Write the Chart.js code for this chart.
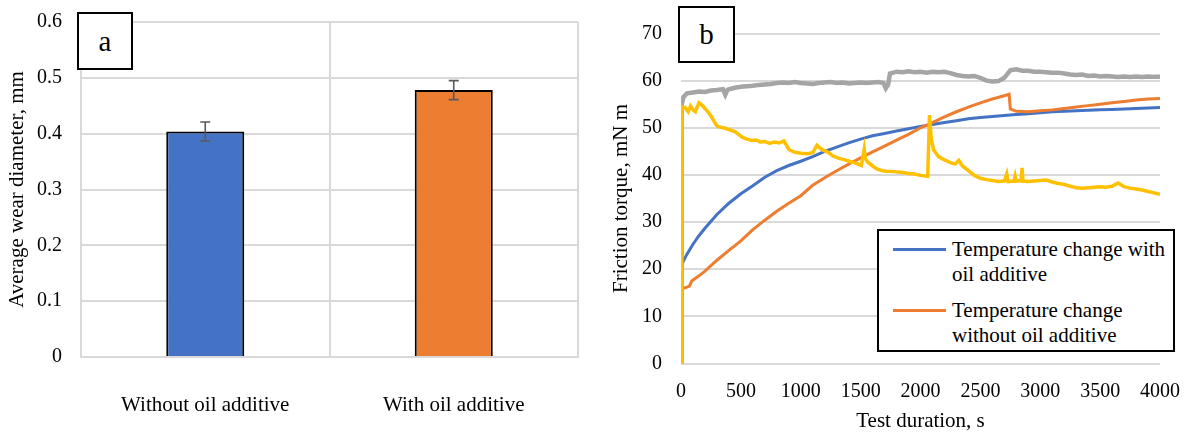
<!DOCTYPE html>
<html lang="en">
<head>
    <meta charset="UTF-8">
    <title>Wear diameter and friction torque</title>
    <script src="https://cdn.jsdelivr.net/npm/chart.js"></script>
    <style>
        body {
            margin: 0;
            padding: 0;
            background: #fff;
            font-family: "Liberation Serif", "Times New Roman", serif;
        }
        #wrap {
            position: relative;
            width: 1188px;
            height: 435px;
        }
        #left, #right {
            position: absolute;
            top: 0;
            height: 435px;
        }
        #left { left: 0; width: 600px; }
        #right { left: 600px; width: 588px; }
        .panel {
            position: absolute;
            box-sizing: border-box;
            border: 2px solid #000;
            background: #fff;
            font-size: 29px;
            display: flex;
            align-items: center;
            justify-content: center;
            color: #000;
        }
        #legend {
            position: absolute;
            left: 877px;
            top: 229px;
            width: 298px;
            height: 123px;
            box-sizing: border-box;
            border: 2px solid #000;
            background: #fff;
            font-size: 21px;
            line-height: 25px;
            color: #000;
        }
        .entry {
            position: absolute;
            left: 0;
            width: 100%;
        }
        .entry .swatch {
            position: absolute;
            left: 14px;
            width: 53px;
            height: 3px;
        }
        .entry .txt {
            position: absolute;
            left: 73px;
            white-space: nowrap;
        }
    </style>
</head>
<body>
<div id="wrap">
    <div id="left"><canvas id="wearChart"></canvas></div>
    <div id="right"><canvas id="torqueChart"></canvas></div>
    <div class="panel" style="left:77px; top:12px; width:56px; height:58px;">a</div>
    <div class="panel" style="left:678px; top:6px; width:57px; height:57px;">b</div>
    <div id="legend"></div>
</div>
<script>
    // ---- panel a : average wear diameter ----
    const wearLabels = ['Without oil additive', 'With oil additive'];
    const wearValues = [0.404, 0.478];
    const wearErrors = [0.017, 0.017];
    const wearColors = ['#4472C4', '#ED7D31'];
    const wearTicks = ['0', '0.1', '0.2', '0.3', '0.4', '0.5', '0.6'];

    // ---- panel b : friction torque over time ----
    const seriesNames = ['Temperature change with oil additive', 'Temperature change without oil additive', '', ''];
    const seriesColors = ['#4472C4', '#ED7D31', '#A5A5A5', '#FFC000'];
    const legendLines = [
        ['Temperature change with', 'oil additive'],
        ['Temperature change', 'without oil additive']
    ];
    const timeTicks = ['0', '500', '1000', '1500', '2000', '2500', '3000', '3500', '4000'];

    // blue
    const timeWith = [0, 25, 50, 100, 150, 200, 300, 400, 500, 600, 700, 800, 900, 1000,
        1100, 1200, 1300, 1400, 1500, 1600, 1700, 1800, 1900, 2000, 2100, 2200, 2300, 2400,
        2500, 2600, 2700, 2800, 2900, 3000, 3100, 3200, 3300, 3400, 3500, 3600, 3700, 3800, 3900, 4000];
    const torqueWith = [20.5, 22.0, 23.2, 25.3, 27.1, 28.7, 31.6, 34.0, 36.0, 37.7, 39.5, 40.9, 42.0, 42.9,
        43.9, 45.0, 45.9, 46.8, 47.6, 48.3, 48.8, 49.3, 49.8, 50.3, 50.7, 51.1, 51.5, 51.9,
        52.2, 52.4, 52.6, 52.8, 53.0, 53.2, 53.4, 53.5, 53.6, 53.7, 53.8, 53.9, 54.0, 54.1, 54.2, 54.3];

    // orange
    const timeWithout = [0, 25, 50, 70, 90, 150, 200, 300, 400, 500, 600, 700, 800, 900, 1000,
        1100, 1200, 1300, 1400, 1500, 1600, 1700, 1800, 1900, 2000, 2100, 2200, 2300, 2400,
        2500, 2600, 2700, 2740, 2750, 2800, 2900, 3000, 3100, 3200, 3300, 3400, 3500, 3600,
        3700, 3800, 3900, 4000];
    const torqueWithout = [15.8, 16.0, 16.2, 16.4, 17.5, 18.6, 19.6, 21.9, 24.0, 26.0, 28.4, 30.4, 32.3, 34.0, 35.6,
        37.8, 39.4, 40.9, 42.3, 43.6, 44.9, 46.1, 47.4, 48.6, 50.0, 51.1, 52.3, 53.4, 54.4,
        55.3, 56.1, 56.8, 57.1, 54.0, 53.5, 53.4, 53.6, 53.8, 54.1, 54.4, 54.7, 55.0, 55.3,
        55.6, 55.9, 56.1, 56.2];

    // gray
    const timeGray = [0, 5, 20, 50, 100, 150, 200, 250, 300, 350, 370, 390, 450, 500, 550, 600, 650,
        700, 750, 800, 850, 900, 950, 1000, 1050, 1100, 1150, 1200, 1250, 1300, 1350, 1400,
        1450, 1500, 1550, 1600, 1650, 1690, 1710, 1730, 1745, 1800, 1850, 1900, 1950, 2000,
        2050, 2100, 2150, 2200, 2250, 2300, 2350, 2400, 2450, 2500, 2550, 2600, 2650, 2700,
        2750, 2800, 2850, 2900, 2950, 3000, 3050, 3100, 3150, 3200, 3250, 3300, 3350, 3400,
        3450, 3500, 3550, 3600, 3650, 3700, 3750, 3800, 3850, 3900, 3950, 4000];
    const torqueGray = [0, 54.8, 56.5, 57.3, 57.5, 57.7, 57.6, 57.9, 58.0, 58.2, 57.0, 58.1, 58.5, 58.7, 58.8, 58.9, 59.1,
        59.2, 59.3, 59.5, 59.6, 59.5, 59.7, 59.5, 59.4, 59.3, 59.5, 59.6, 59.7, 59.5, 59.6, 59.4,
        59.5, 59.6, 59.5, 59.6, 59.7, 59.5, 58.4, 59.2, 61.5, 61.9, 61.8, 62.0, 61.8, 61.9,
        61.7, 61.9, 61.8, 61.9, 61.6, 61.2, 61.0, 60.9, 61.0, 60.6, 60.0, 59.8, 59.9, 60.6,
        62.2, 62.4, 62.1, 62.1, 61.9, 61.9, 61.8, 61.7, 61.7, 61.5, 61.3, 61.2, 61.3, 61.0,
        61.1, 60.9, 61.0, 60.9, 60.8, 60.9, 60.8, 60.9, 60.8, 60.9, 60.8, 60.8];

    // yellow
    const timeYellow = [0, 3, 15, 35, 60, 80, 100, 120, 150, 175, 200, 225, 250, 280, 300, 330,
        370, 400, 450, 480, 510, 550, 590, 630, 660, 700, 740, 780, 820, 860, 880, 900, 950,
        1000, 1050, 1100, 1135, 1160, 1190, 1230, 1270, 1320, 1370, 1420, 1470, 1505, 1520,
        1530, 1540, 1560, 1600, 1640, 1680, 1720, 1780, 1850, 1900, 1950, 2000, 2060, 2075,
        2090, 2110, 2150, 2200, 2250, 2290, 2320, 2350, 2400, 2450, 2500, 2550, 2600, 2650,
        2700, 2720, 2730, 2780, 2790, 2800, 2840, 2848, 2856, 2900, 2950, 3000, 3050, 3100,
        3150, 3200, 3250, 3300, 3350, 3400, 3450, 3500, 3550, 3600, 3650, 3700, 3750, 3800,
        3850, 3900, 3950, 4000];
    const torqueYellow = [0, 54.5, 54.0, 54.3, 53.4, 54.6, 53.8, 53.4, 55.3, 54.8, 54.1, 53.4, 52.5, 51.2, 50.4, 50.1,
        49.9, 49.6, 49.2, 48.6, 48.0, 47.6, 47.3, 47.4, 47.0, 47.1, 46.7, 47.0, 46.8, 47.2, 46.3, 45.4, 44.8,
        44.6, 44.5, 44.7, 46.3, 45.7, 45.2, 44.8, 44.0, 43.5, 43.2, 42.8, 42.4, 42.0, 44.0,
        45.5, 43.4, 42.7, 41.9, 41.2, 40.9, 40.8, 40.7, 40.5, 40.3, 40.2, 39.9, 39.7, 52.7,
        47.5, 45.3, 43.9, 43.2, 42.6, 42.3, 43.1, 41.9, 40.9, 39.9, 39.3, 39.0, 38.8, 38.6,
        38.7, 40.2, 38.6, 38.7, 39.8, 38.7, 38.8, 41.5, 38.7, 38.6, 38.7, 38.8, 38.9, 38.5,
        38.2, 38.0, 37.6, 37.3, 37.2, 37.3, 37.4, 37.5, 37.4, 37.6, 38.3, 37.5, 37.2, 37.0,
        36.8, 36.5, 36.2, 35.9];

    const axisFont = { family: '"Liberation Serif", "Times New Roman", serif', size: 20 };
    const titleFont = { family: '"Liberation Serif", "Times New Roman", serif', size: 21 };
    const gridColor = '#d9d9d9';

    // error bars for panel a
    const errorBars = {
        id: 'errorBars',
        afterDatasetsDraw(chart) {
            const meta = chart.getDatasetMeta(0);
            const yScale = chart.scales.y;
            const ctx = chart.ctx;
            ctx.save();
            ctx.strokeStyle = '#595959';
            ctx.lineWidth = 1.6;
            meta.data.forEach((bar, i) => {
                const top = yScale.getPixelForValue(wearValues[i] + wearErrors[i]);
                const bot = yScale.getPixelForValue(wearValues[i] - wearErrors[i]);
                ctx.beginPath();
                ctx.moveTo(bar.x, top);
                ctx.lineTo(bar.x, bot);
                ctx.moveTo(bar.x - 5, top);
                ctx.lineTo(bar.x + 5, top);
                ctx.moveTo(bar.x - 5, bot);
                ctx.lineTo(bar.x + 5, bot);
                ctx.stroke();
            });
            ctx.restore();
        }
    };

    new Chart(document.getElementById('wearChart'), {
        type: 'bar',
        data: {
            labels: wearLabels,
            datasets: [{
                data: wearValues,
                backgroundColor: wearColors,
                borderColor: '#000',
                borderWidth: 2,
                categoryPercentage: 1,
                barPercentage: 0.314
            }]
        },
        options: {
            responsive: true,
            maintainAspectRatio: false,
            animation: false,
            layout: { padding: { top: 22, right: 22, left: 0, bottom: 0 } },
            plugins: { legend: { display: false }, tooltip: { enabled: false } },
            scales: {
                x: {
                    grid: { color: gridColor, lineWidth: 2, drawTicks: false, offset: true },
                    border: { color: gridColor, width: 2 },
                    ticks: { color: '#000', font: titleFont, padding: 36, maxRotation: 0 },
                    afterFit(scale) { scale.height = 78; }
                },
                y: {
                    min: 0,
                    max: 0.6,
                    // tick marks kept invisible, their length gives the gap to the labels
                    grid: { color: gridColor, lineWidth: 2, drawTicks: true, tickLength: 19, tickColor: 'rgba(0,0,0,0)' },
                    border: { color: gridColor, width: 2 },
                    ticks: {
                        color: '#000',
                        font: axisFont,
                        padding: 0,
                        stepSize: 0.1,
                        callback: (v, i) => wearTicks[i]
                    },
                    title: {
                        display: true,
                        text: 'Average wear diameter, mm',
                        color: '#000',
                        font: titleFont,
                        padding: { top: 5, bottom: 0 }
                    },
                    afterFit(scale) { scale.width = 81; }
                }
            }
        },
        plugins: [errorBars]
    });

    function pairs(xs, ys) {
        return xs.map((x, i) => ({ x: x, y: ys[i] }));
    }

    const torqueSets = [
        [timeWith, torqueWith, 3, 4],
        [timeWithout, torqueWithout, 3, 3],
        [timeGray, torqueGray, 4.5, 2],
        [timeYellow, torqueYellow, 3.5, 1]
    ];

    new Chart(document.getElementById('torqueChart'), {
        type: 'scatter',
        data: {
            datasets: torqueSets.map((s, i) => ({
                label: seriesNames[i],
                data: pairs(s[0], s[1]),
                showLine: true,
                borderColor: seriesColors[i],
                backgroundColor: seriesColors[i],
                borderWidth: s[2],
                pointRadius: 0,
                tension: 0,
                order: s[3]
            }))
        },
        options: {
            responsive: true,
            maintainAspectRatio: false,
            animation: false,
            layout: { padding: { top: 33.5, right: 28, left: 0, bottom: 0 } },
            plugins: { legend: { display: false }, tooltip: { enabled: false } },
            scales: {
                x: {
                    type: 'linear',
                    min: 0,
                    max: 4000,
                    grid: { display: false },
                    border: { display: false },
                    ticks: {
                        color: '#000',
                        font: axisFont,
                        padding: 8,
                        stepSize: 500,
                        maxRotation: 0,
                        callback: (v, i) => timeTicks[i]
                    },
                    title: {
                        display: true,
                        text: 'Test duration, s',
                        color: '#000',
                        font: titleFont,
                        padding: { top: 0, bottom: 1 }
                    },
                    afterFit(scale) { scale.height = 71.5; }
                },
                y: {
                    min: 0,
                    max: 70,
                    grid: { color: gridColor, lineWidth: 2, drawTicks: true, tickLength: 19, tickColor: 'rgba(0,0,0,0)' },
                    border: { display: false },
                    ticks: { color: '#000', font: axisFont, padding: 0, stepSize: 10 },
                    title: {
                        display: true,
                        text: 'Friction torque, mN m',
                        color: '#000',
                        font: titleFont,
                        padding: { top: 9, bottom: 0 }
                    },
                    afterFit(scale) { scale.width = 81; }
                }
            }
        }
    });

    // legend for the two temperature series
    const legend = document.getElementById('legend');
    legendLines.forEach((lines, i) => {
        const entry = document.createElement('div');
        entry.className = 'entry';
        entry.style.top = (6 + i * 61) + 'px';
        entry.innerHTML = '<div class="swatch" style="top:11px; background:' + seriesColors[i] + '"></div>' +
            '<div class="txt">' + lines.join('<br>') + '</div>';
        legend.appendChild(entry);
    });
</script>
</body>
</html>
